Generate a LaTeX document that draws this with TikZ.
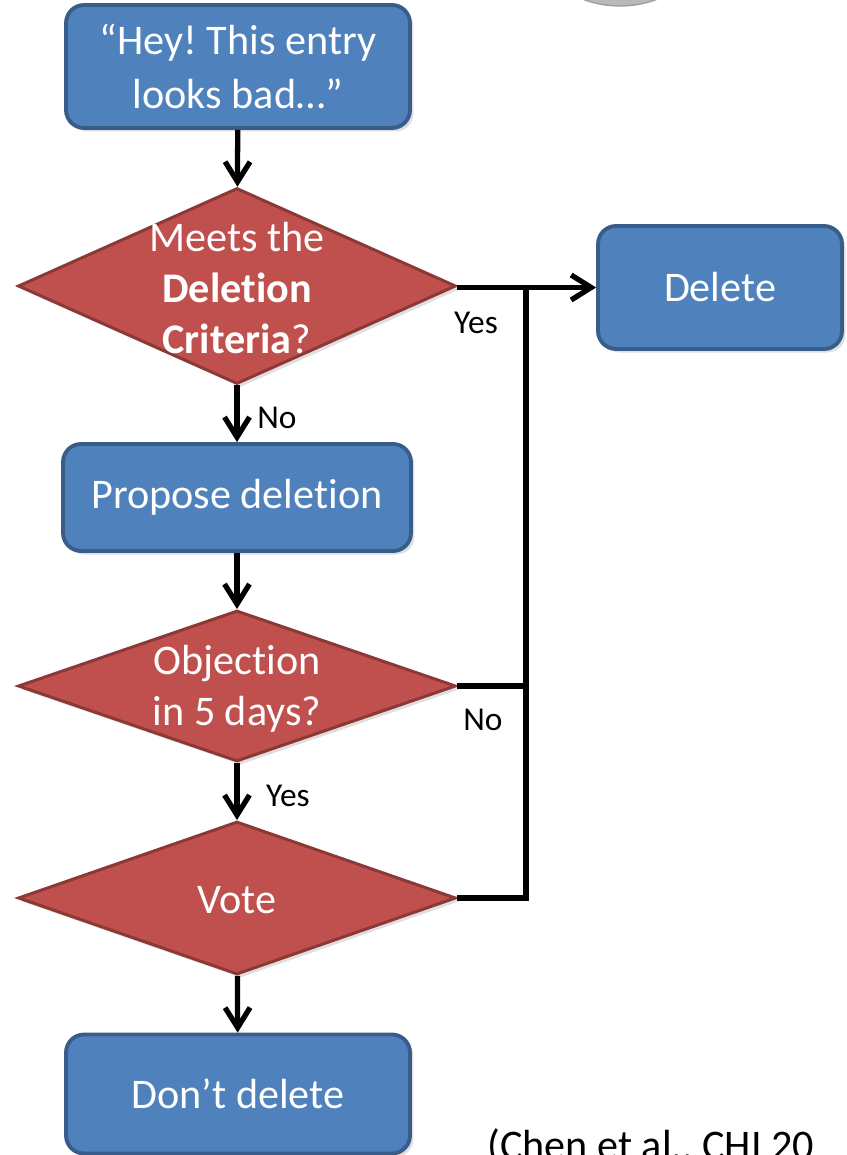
\documentclass[tikz,border=0pt]{standalone}
\usepackage{fontspec}
\setmainfont{Carlito}[Ligatures=NoCommon]
\usepackage{tikz}
\usetikzlibrary{shapes.geometric, arrows.meta, shadows}
\frenchspacing
\definecolor{boxblue}{HTML}{4F81BD}
\definecolor{boxblueline}{HTML}{385D8A}
\definecolor{diared}{HTML}{C0504D}
\definecolor{diaredline}{HTML}{8C3836}
\tikzstyle{processblock} = [draw=boxblueline, fill=boxblue, line width=2.2pt, rounded corners=0.36cm, text=white, align=center, inner sep=0, drop shadow={opacity=0.25, shadow xshift=2pt, shadow yshift=-2pt}]
\tikzstyle{decisionblock} = [draw=diaredline, fill=diared, line width=1.7pt, diamond, inner sep=0, drop shadow={opacity=0.25, shadow xshift=2pt, shadow yshift=-2pt}]
\tikzstyle{decisiontext} = [text=white, align=center, font=\fontsize{24}{29}\selectfont]
\tikzstyle{edgelabel} = [font=\fontsize{19}{23}\selectfont]

\begin{document}
\begin{tikzpicture}[x=0.02cm, y=-0.02cm, >={Straight Barb[length=0.4cm, width=0.5cm]}, font=\fontsize{24}{31}\selectfont]
      \useasboundingbox (0, 0) rectangle (846, 1155);
      \clip (0, 0) rectangle (846, 1155);
      \fill[gray!55, draw=gray!75, line width=0.8pt] (620, -99) circle[radius=2.1cm];

      \node[processblock, minimum width=6.88cm, minimum height=2.46cm] (hey) at (238, 66.5) {“Hey! This entry\\looks bad…”};
      \node[decisionblock, minimum width=8.76cm, minimum height=3.92cm] (crit) at (237, 286) {};
      \node[decisiontext] (crittext) at (237, 288) {Meets the\\\textbf{Deletion}\\\textbf{Criteria}?};
      \node[processblock, minimum width=4.88cm, minimum height=2.46cm] (del) at (720, 287.5) {Delete};
      \node[processblock, minimum width=6.96cm, minimum height=2.14cm] (propose) at (237, 497.5) {Propose deletion};
      \node[decisionblock, minimum width=8.76cm, minimum height=3.02cm] (obj) at (237, 686) {};
      \node[decisiontext] (objtext) at (237, 689) {Objection\\in 5 days?};
      \node[decisionblock, minimum width=8.76cm, minimum height=3.06cm] (vote) at (237, 898) {};
      \node[decisiontext] (votetext) at (237, 900) {Vote};
      \node[processblock, minimum width=6.88cm, minimum height=2.38cm] (keep) at (238, 1094) {Don’t delete};
      \node[anchor=base west, inner sep=0] (cite) at (487, 1159) {(Chen et al., CHI 20};

      \coordinate (bus) at (526, 287.5);

      \draw[->, line width=3pt] (hey) -- (crit);
      \draw[->, line width=3pt] (crit.east |- del.west) -- (del.west);
      \draw[->, line width=3pt] (crit) -- (propose);
      \draw[->, line width=3pt] (propose) -- (obj);
      \draw[->, line width=3pt] (obj) -- (vote);
      \draw[->, line width=3pt] (vote) -- (keep);
      \draw[line width=3pt] (obj.east) -- (obj.east -| bus);
      \draw[line width=3pt] (vote.east) -| (bus);

      \node[edgelabel] (yes1) at (476, 323) {Yes};
      \node[edgelabel] (no1) at (277, 418) {No};
      \node[edgelabel] (no2) at (483, 720) {No};
      \node[edgelabel] (yes2) at (288, 796) {Yes};
    \end{tikzpicture}
\end{document}
